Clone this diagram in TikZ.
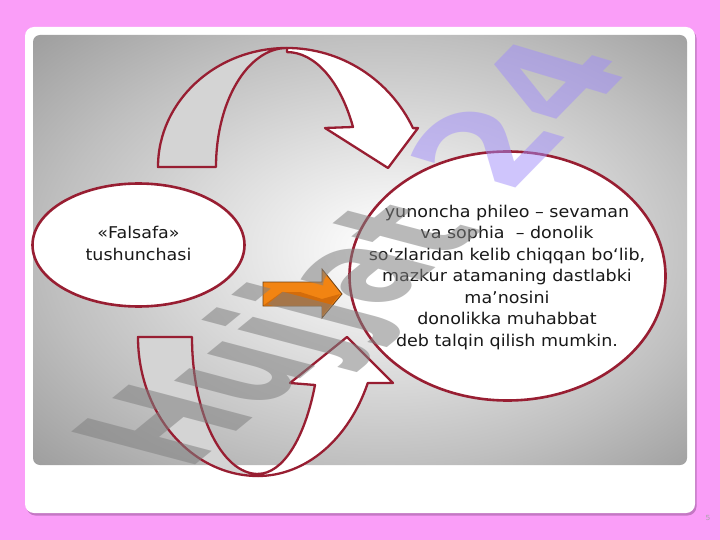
\documentclass[tikz,border=0pt]{standalone}
\usepackage{fontspec}
\setmainfont{DejaVu Sans}[FakeStretch=1.08]
\usetikzlibrary{shapes.geometric}

\definecolor{rosa}{RGB}{250,158,248}
\definecolor{schatten}{RGB}{196,120,196}
\definecolor{weinrot}{RGB}{152,30,50}
\definecolor{hellgrau}{RGB}{212,212,212}
\definecolor{orangefl}{RGB}{242,132,18}
\definecolor{orangedkl}{RGB}{212,108,10}
\definecolor{orangerand}{RGB}{110,64,20}
\definecolor{lila}{RGB}{160,140,250}
\pgfdeclareradialshading{flaeche}{\pgfpoint{3bp}{0bp}}{color(0bp)=(white); color(4bp)=(white!97!black); color(25bp)=(black!25); color(36bp)=(black!38); color(50bp)=(black!38)}

\begin{document}
\begin{tikzpicture}[x=1pt, y=-1pt,
    rand/.style={draw=weinrot, line width=2.3pt, line join=round},
    blase/.style={ellipse, draw=weinrot, line width=2.6pt, fill=white, inner sep=0pt},
    schrift/.style={font=\fontsize{16.2}{21.5}\selectfont, text=black!90, align=center}]
    % Hintergrund
    \fill[rosa] (0,0) rectangle (720,540);
    \useasboundingbox (0,0) rectangle (720,540);

    % Karte
    \fill[schatten, rounded corners=9pt] (26.5,29.5) rectangle (696.5,515.5);
    \fill[white, rounded corners=9pt] (25,27) rectangle (695,513);
    \shade[shading=flaeche, rounded corners=7pt] (33,35) rectangle (687,465);

    % Oberer Bogenpfeil
    \filldraw[rand, fill=hellgrau] (158,167) arc[start angle=180, end angle=270, x radius=129, y radius=119]
        arc[start angle=270, end angle=180, x radius=71, y radius=119] -- cycle;
    \filldraw[rand, fill=white] (287,48) arc[start angle=270, end angle=334.2, x radius=140, y radius=142]
        -- (418,128) -- (388,168) -- (325,128) -- (353,127)
        arc[start angle=332.8, end angle=270, x radius=74.2, y radius=138] -- cycle;

    % Unterer Bogenpfeil
    \filldraw[rand, fill=hellgrau] (138,337) arc[start angle=180, end angle=90, x radius=120, y radius=139]
        -- (258,474) arc[start angle=90, end angle=180, x radius=66, y radius=137] -- cycle;
    \filldraw[rand, fill=white] (258,476) arc[start angle=90, end angle=23.8, x radius=120, y radius=156]
        -- (393,383) -- (347,337) -- (290,383) -- (315,385)
        arc[start angle=25, end angle=90, x radius=63, y radius=154] -- cycle;

    % Ellipsen
    \node[blase, minimum width=212pt, minimum height=123pt] (falsafa) at (138.5,245) {};
    \node[schrift] (falsafatext) at (138.5,243.5) {«Falsafa»\\tushunchasi};
    \node[blase, minimum width=316pt, minimum height=249pt] (mano) at (507.5,276) {};
    \node[schrift] (manotext) at (507,277.5) {yunoncha phileo – sevaman\\va sophia \ – donolik\\so‘zlaridan kelib chiqqan bo‘lib,\\mazkur atamaning dastlabki\\ma’nosini\\donolikka muhabbat\\deb talqin qilish mumkin.};

    % Orangener Pfeil
    \filldraw[fill=orangefl, draw=orangerand, line width=0.8pt] (263,282) -- (322,282) -- (322,269) -- (342,294)
        -- (322,318) -- (322,306) -- (263,306) -- cycle;
    \fill[orangedkl] (264,305) -- (282,292) -- (300,292) -- (322,299) -- (340,294) -- (322,316) -- (322,305) -- cycle;

    % Wasserzeichen
    \node[transform shape, cm={0.815,0.667,-1.7,0.45,(187,472)}, anchor=base west, inner sep=0pt,
        text=black!50, opacity=0.55, font=\fontsize{100}{100}\selectfont\bfseries] (zeichen) at (0,0) {Hujjat};
    \node[transform shape, cm={0.86,0.88,-1.5,0.45,(508,196)}, anchor=base west, inner sep=0pt,
        text=lila, opacity=0.5, font=\fontsize{100}{100}\selectfont\bfseries] (zahl) at (0,0) {24};

    % Seitenzahl
    \node[text=black!35, font=\fontsize{7}{7}\selectfont] (seite) at (708,518) {5};
\end{tikzpicture}
\end{document}
